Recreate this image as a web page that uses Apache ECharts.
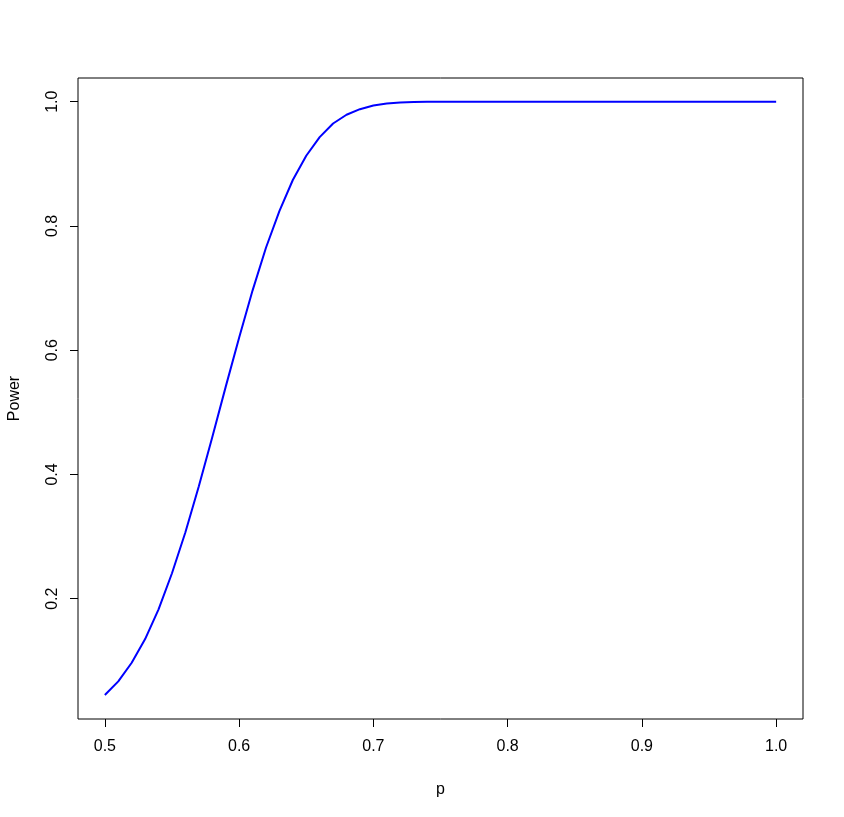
<!DOCTYPE html>
<html>
<head>
<meta charset="utf-8">
<script src="https://cdn.jsdelivr.net/npm/echarts@6/dist/echarts.min.js"></script>
<style>
html,body{margin:0;padding:0;background:#fff;}
#chart{width:844px;height:817px;}
</style>
</head>
<body>
<div id="chart"></div>
<script>
const pValues = [0.50,0.51,0.52,0.53,0.54,0.55,0.56,0.57,0.58,0.59,
  0.60,0.61,0.62,0.63,0.64,0.65,0.66,0.67,0.68,0.69,
  0.70,0.71,0.72,0.73,0.74,0.75,0.76,0.77,0.78,0.79,
  0.80,0.81,0.82,0.83,0.84,0.85,0.86,0.87,0.88,0.89,
  0.90,0.91,0.92,0.93,0.94,0.95,0.96,0.97,0.98,0.99,1.00];
const powerValues = [0.045,0.067,0.097,0.135,0.183,0.241,0.307,0.381,0.460,0.541,
  0.620,0.696,0.765,0.824,0.874,0.913,0.943,0.965,0.979,0.988,
  0.994,0.997,0.9986,0.9995,0.9998,0.9999,1,1,1,1,
  1,1,1,1,1,1,1,1,1,1,
  1,1,1,1,1,1,1,1,1,1,1];
const xTicks = [0.5,0.6,0.7,0.8,0.9,1.0];
const yTicks = [0.2,0.4,0.6,0.8,1.0];

const chart = echarts.init(document.getElementById('chart'));
const font = 'Liberation Sans, Arial, sans-serif';
chart.setOption({
  animation:false,
  backgroundColor:'#fff',
  grid:{left:78,top:78,width:725,height:641,containLabel:false,outerBoundsMode:'none',
    show:true,borderColor:'#000',borderWidth:1,backgroundColor:'transparent'},
  xAxis:{
    type:'value',min:0.48,max:1.02,
    name:'p',nameLocation:'middle',nameGap:63,
    nameTextStyle:{color:'#000',fontSize:16,fontFamily:font},
    axisLine:{show:false},
    splitLine:{show:false},
    axisTick:{show:true,length:8,inside:false,lineStyle:{color:'#000',width:1},customValues:xTicks},
    axisLabel:{show:true,color:'#000',fontSize:16,fontFamily:font,margin:20,customValues:xTicks,
      formatter:v=>v.toFixed(1)}
  },
  yAxis:{
    type:'value',min:0.0064,max:1.0382,
    name:'Power',nameLocation:'middle',nameGap:55,nameRotate:90,
    nameTextStyle:{color:'#000',fontSize:16,fontFamily:font},
    axisLine:{show:false},
    splitLine:{show:false},
    axisTick:{show:true,length:8,inside:false,lineStyle:{color:'#000',width:1},customValues:yTicks},
    axisLabel:{show:true,color:'#000',fontSize:16,fontFamily:font,margin:17,rotate:90,customValues:yTicks,
      formatter:v=>v.toFixed(1)}
  },
  series:[{
    type:'line',
    data:pValues.map((p,i)=>[p,powerValues[i]]),
    showSymbol:false,
    lineStyle:{color:'#0000FF',width:2},
    clip:false
  }]
});
</script>
</body>
</html>
